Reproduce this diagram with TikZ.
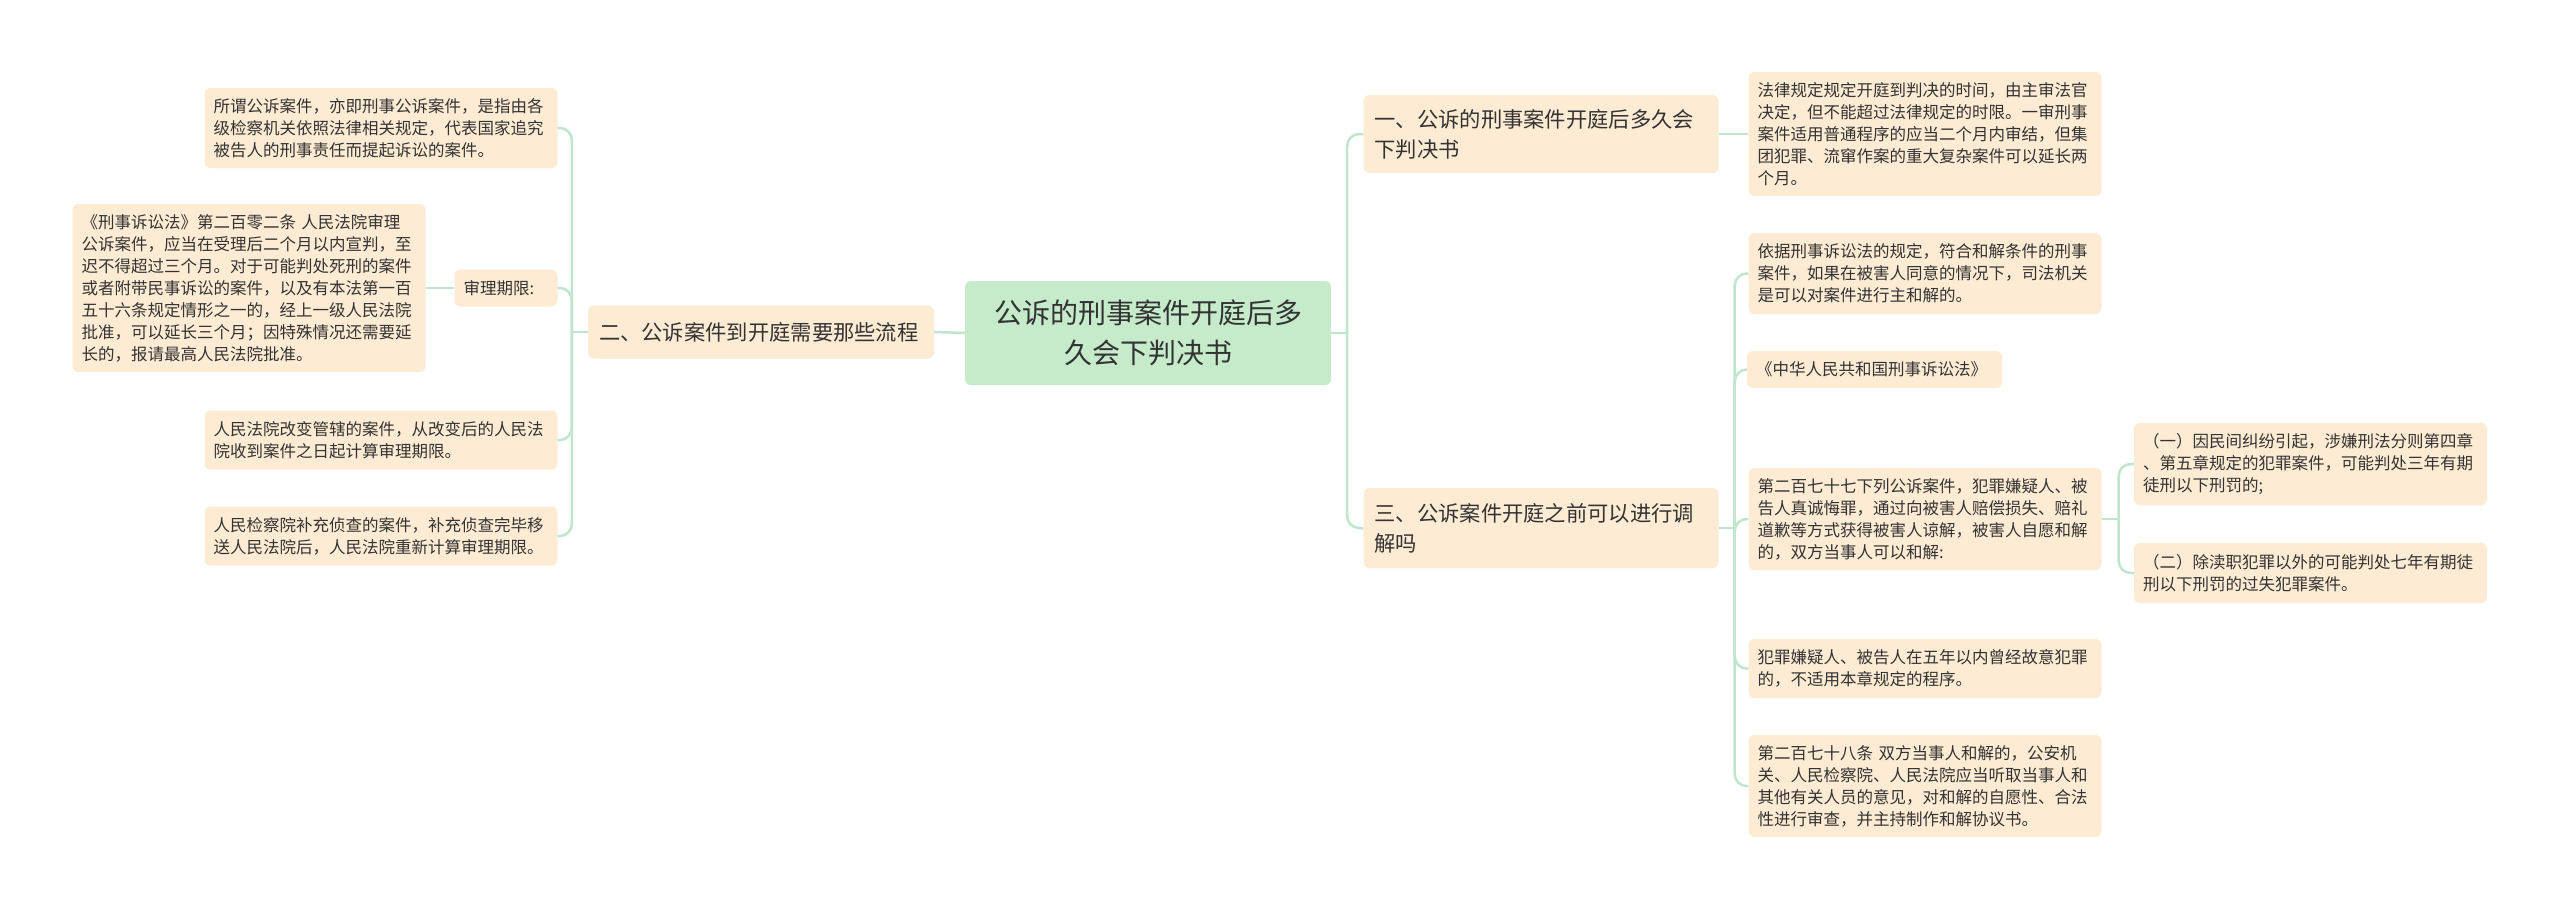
\documentclass[tikz,border=0pt]{standalone}
\usepackage{fontspec}
\setmainfont{Noto Sans CJK SC}
\usepackage{tikz}

\definecolor{boxfill}{HTML}{FDEBD3}
\definecolor{rootfill}{HTML}{C5EBCB}
\definecolor{linkcol}{HTML}{BFE6CB}
\definecolor{inkcol}{HTML}{333333}

\tikzset{
  leaf/.style={fill=boxfill, rounded corners=6pt, align=left, inner xsep=9pt, inner ysep=0pt,
    text width=335pt, text=inkcol, font=\fontsize{16.5}{22}\selectfont},
  branch/.style={fill=boxfill, rounded corners=6pt, align=left, inner xsep=11pt, inner ysep=0pt,
    text=inkcol, font=\fontsize{21.3}{30}\selectfont},
  link/.style={draw=linkcol, line width=2.5pt, rounded corners=12pt},
}

\begin{document}
\begin{tikzpicture}[x=1pt, y=-1pt]

\fill[white] (0,0) rectangle (2560,910);
\useasboundingbox (0,0) rectangle (2560,910);

% root
\node[fill=rootfill, rounded corners=6pt, text=inkcol, align=center, text width=340pt,
  minimum height=104pt, inner xsep=13pt, inner ysep=0pt, font=\fontsize{28}{40}\selectfont]
  (root) at (1148,333) {公诉的刑事案件开庭后多\\久会下判决书};

% left branch
\node[branch, text width=324pt, minimum height=53pt] (two) at (761,332) {二、公诉案件到开庭需要那些流程};
\node[leaf, minimum height=80pt] (la) at (381,128) {所谓公诉案件，亦即刑事公诉案件，是指由各\\级检察机关依照法律相关规定，代表国家追究\\被告人的刑事责任而提起诉讼的案件。};
\node[leaf, text width=85pt, minimum height=37pt] (shen) at (506,288) {审理期限:};
\node[leaf, minimum height=168pt] (lb) at (249,288) {《刑事诉讼法》第二百零二条 人民法院审理\\公诉案件，应当在受理后二个月以内宣判，至\\迟不得超过三个月。对于可能判处死刑的案件\\或者附带民事诉讼的案件，以及有本法第一百\\五十六条规定情形之一的，经上一级人民法院\\批准，可以延长三个月；因特殊情况还需要延\\长的，报请最高人民法院批准。};
\node[leaf, minimum height=59pt] (lc) at (381,440) {人民法院改变管辖的案件，从改变后的人民法\\院收到案件之日起计算审理期限。};
\node[leaf, minimum height=59pt] (ld) at (381,536) {人民检察院补充侦查的案件，补充侦查完毕移\\送人民法院后，人民法院重新计算审理期限。};

\draw[link] (root.west) -- (two.east);
\draw[link] (two.west) -- ++(-16,0);
\draw[link] (two.west) ++(-16,0) |- (la.east);
\draw[link] (two.west) ++(-16,0) |- (shen.east);
\draw[link] (two.west) ++(-16,0) |- (lc.east);
\draw[link] (two.west) ++(-16,0) |- (ld.east);
\draw[link] (shen.west) -- (lb.east);

% right branch, part one
\node[branch, text width=333pt, minimum height=78pt] (one) at (1541,134) {一、公诉的刑事案件开庭后多久会\\下判决书};
\node[leaf, minimum height=124pt] (oa) at (1925,134) {法律规定规定开庭到判决的时间，由主审法官\\决定，但不能超过法律规定的时限。一审刑事\\案件适用普通程序的应当二个月内审结，但集\\团犯罪、流窜作案的重大复杂案件可以延长两\\个月。};

\draw[link] (root.east) -- ++(16,0);
\draw[link] (root.east) ++(16,0) |- (one.west);
\draw[link] (one.east) -- (oa.west);

% right branch, part three
\node[branch, text width=333pt, minimum height=80pt] (three) at (1541,528) {三、公诉案件开庭之前可以进行调\\解吗};
\node[leaf, minimum height=81pt] (ta) at (1925,273.5) {依据刑事诉讼法的规定，符合和解条件的刑事\\案件，如果在被害人同意的情况下，司法机关\\是可以对案件进行主和解的。};
\node[leaf, text width=237pt, minimum height=37pt] (tb) at (1874.5,369.5) {《中华人民共和国刑事诉讼法》};
\node[leaf, minimum height=102pt] (tc) at (1925,519) {第二百七十七下列公诉案件，犯罪嫌疑人、被\\告人真诚悔罪，通过向被害人赔偿损失、赔礼\\道歉等方式获得被害人谅解，被害人自愿和解\\的，双方当事人可以和解:};
\node[leaf, minimum height=82pt] (td) at (2310.5,464) {（一）因民间纠纷引起，涉嫌刑法分则第四章\\、第五章规定的犯罪案件，可能判处三年有期\\徒刑以下刑罚的;};
\node[leaf, minimum height=60pt] (te) at (2310.5,573) {（二）除渎职犯罪以外的可能判处七年有期徒\\刑以下刑罚的过失犯罪案件。};
\node[leaf, minimum height=59pt] (tf) at (1925,668.5) {犯罪嫌疑人、被告人在五年以内曾经故意犯罪\\的，不适用本章规定的程序。};
\node[leaf, minimum height=102pt] (tg) at (1925,786) {第二百七十八条 双方当事人和解的，公安机\\关、人民检察院、人民法院应当听取当事人和\\其他有关人员的意见，对和解的自愿性、合法\\性进行审查，并主持制作和解协议书。};

\draw[link] (root.east) ++(16,0) |- (three.west);
\draw[link] (three.east) -- ++(16,0);
\draw[link] (three.east) ++(16,0) |- (ta.west);
\draw[link] (three.east) ++(16,0) |- (tb.west);
\draw[link] (three.east) ++(16,0) |- (tc.west);
\draw[link] (three.east) ++(16,0) |- (tf.west);
\draw[link] (three.east) ++(16,0) |- (tg.west);
\draw[link] (tc.east) -- ++(17,0);
\draw[link] (tc.east) ++(17,0) |- (td.west);
\draw[link] (tc.east) ++(17,0) |- (te.west);

\end{tikzpicture}
\end{document}
